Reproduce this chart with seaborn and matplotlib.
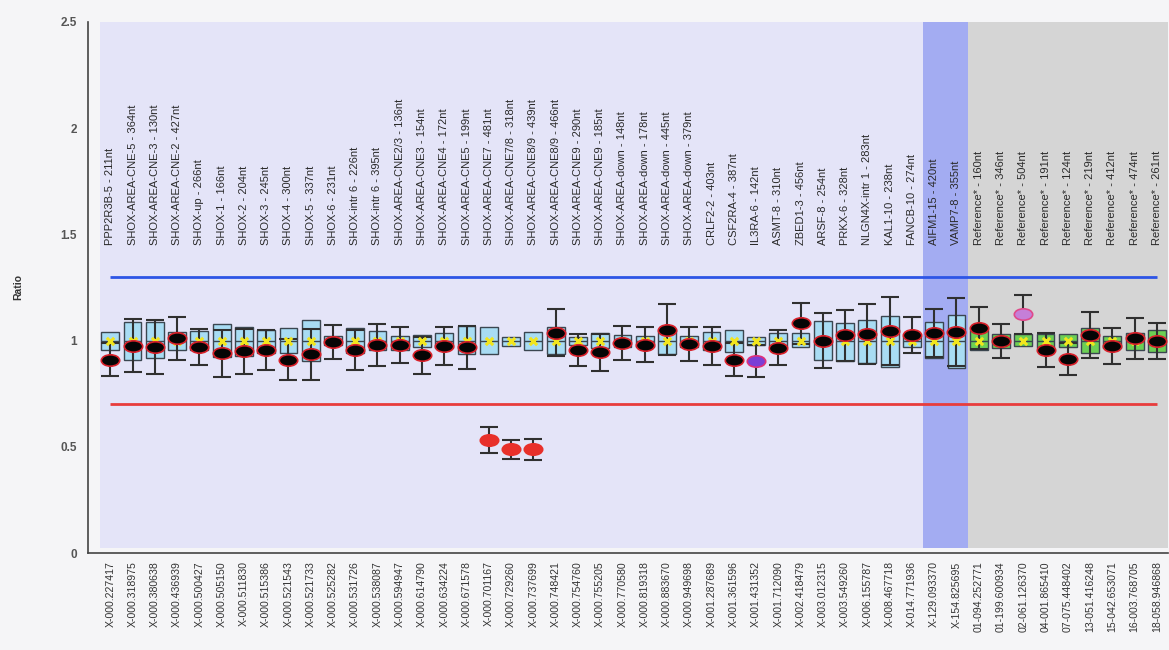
import matplotlib
matplotlib.use("Agg")
import matplotlib.pyplot as plt
from matplotlib.path import Path
import numpy as np
import pandas as pd
import seaborn as sns

# ---------------- data ----------------
probe_names = [
    "PPP2R3B-5 - 211nt", "SHOX-AREA-CNE-5 - 364nt", "SHOX-AREA-CNE-3 - 130nt",
    "SHOX-AREA-CNE-2 - 427nt", "SHOX-up - 266nt", "SHOX-1 - 166nt", "SHOX-2 - 204nt",
    "SHOX-3 - 245nt", "SHOX-4 - 300nt", "SHOX-5 - 337nt", "SHOX-6 - 231nt",
    "SHOX-intr 6 - 226nt", "SHOX-intr 6 - 395nt", "SHOX-AREA-CNE2/3 - 136nt",
    "SHOX-AREA-CNE3 - 154nt", "SHOX-AREA-CNE4 - 172nt", "SHOX-AREA-CNE5 - 199nt",
    "SHOX-AREA-CNE7 - 481nt", "SHOX-AREA-CNE7/8 - 318nt", "SHOX-AREA-CNE8/9 - 439nt",
    "SHOX-AREA-CNE8/9 - 466nt", "SHOX-AREA-CNE9 - 290nt", "SHOX-AREA-CNE9 - 185nt",
    "SHOX-AREA-down - 148nt", "SHOX-AREA-down - 178nt", "SHOX-AREA-down - 445nt",
    "SHOX-AREA-down - 379nt", "CRLF2-2 - 403nt", "CSF2RA-4 - 387nt", "IL3RA-6 - 142nt",
    "ASMT-8 - 310nt", "ZBED1-3 - 456nt", "ARSF-8 - 254nt", "PRKX-6 - 328nt",
    "NLGN4X-intr 1 - 283nt", "KAL1-10 - 238nt", "FANCB-10 - 274nt",
    "AIFM1-15 - 420nt", "VAMP7-8 - 355nt",
    "Reference* - 160nt", "Reference* - 346nt", "Reference* - 504nt",
    "Reference* - 191nt", "Reference* - 124nt", "Reference* - 219nt",
    "Reference* - 412nt", "Reference* - 474nt", "Reference* - 261nt",
]
chrom_pos = [
    "X-000.227417", "X-000.318975", "X-000.380638", "X-000.436939", "X-000.500427",
    "X-000.505150", "X-000.511830", "X-000.515386", "X-000.521543", "X-000.521733",
    "X-000.525282", "X-000.531726", "X-000.538087", "X-000.594947", "X-000.614790",
    "X-000.634224", "X-000.671578", "X-000.701167", "X-000.729260", "X-000.737699",
    "X-000.748421", "X-000.754760", "X-000.755205", "X-000.770580", "X-000.819318",
    "X-000.883670", "X-000.949698", "X-001.287689", "X-001.361596", "X-001.431352",
    "X-001.712090", "X-002.418479", "X-003.012315", "X-003.549260", "X-006.155787",
    "X-008.467718", "X-014.771936", "X-129.093370", "X-154.825695",
    "01-094.252771", "01-199.600934", "02-061.126370", "04-001.865410",
    "07-075.448402", "13-051.416248", "15-042.653071", "16-003.768705",
    "18-058.946868",
]
box_low = [0.955, 0.911, 0.916, 0.955, 0.955, 0.921, 0.927, 0.940, 0.940, 0.905,
           0.980, 0.940, 0.955, 0.955, 0.971, 0.965, 0.935, 0.937, 0.975, 0.955,
           0.935, 0.980, 0.965, 0.971, 0.968, 0.937, 0.971, 0.955, 0.945, 0.980,
           0.968, 0.968, 0.911, 0.905, 0.895, 0.877, 0.971, 0.916, 0.872,
           0.955, 0.965, 0.975, 0.966, 0.968, 0.940, 0.965, 0.958, 0.945]
box_high = [1.042, 1.089, 1.086, 1.042, 1.045, 1.077, 1.065, 1.052, 1.057, 1.096,
            1.020, 1.057, 1.045, 1.021, 1.026, 1.034, 1.069, 1.065, 1.018, 1.039,
            1.065, 1.018, 1.034, 1.026, 1.021, 1.052, 1.021, 1.042, 1.052, 1.018,
            1.036, 1.034, 1.092, 1.081, 1.096, 1.115, 1.021, 1.086, 1.120,
            1.049, 1.031, 1.031, 1.031, 1.029, 1.057, 1.021, 1.036, 1.049]
box_median = [1.00, 1.00, 1.00, 1.00, 1.00, 1.00, 1.00, 1.00, 1.00, 1.00,
              1.00, 1.00, 1.00, 1.00, 1.00, 1.00, 1.00, 1.00, 1.00, 1.00,
              1.00, 1.00, 1.00, 1.00, 1.00, 1.00, 1.00, 1.00, 1.00, 1.00,
              1.00, 1.00, 1.00, 1.00, 1.00, 1.00, 1.00, 1.00, 1.00,
              1.00, 1.00, 1.00, 1.00, 1.00, 1.00, 1.00, 1.00, 1.00]
sample_ratio = [0.911, 0.975, 0.970, 1.010, 0.970, 0.940, 0.950, 0.955, 0.911, 0.935,
                0.995, 0.955, 0.980, 0.980, 0.930, 0.975, 0.968, 0.532, 0.488, 0.488,
                1.037, 0.955, 0.944, 0.987, 0.980, 1.052, 0.983, 0.975, 0.911, 0.905,
                0.966, 1.081, 1.000, 1.025, 1.031, 1.044, 1.026, 1.034, 1.039,
                1.060, 1.000, 1.123, 0.955, 0.913, 1.026, 0.976, 1.010, 1.000]
ratio_err = [0.080, 0.125, 0.125, 0.100, 0.085, 0.110, 0.105, 0.095, 0.095, 0.120,
             0.080, 0.095, 0.100, 0.085, 0.085, 0.090, 0.100, 0.060, 0.045, 0.048,
             0.110, 0.075, 0.085, 0.080, 0.083, 0.120, 0.080, 0.090, 0.080, 0.075,
             0.083, 0.095, 0.130, 0.120, 0.140, 0.160, 0.085, 0.113, 0.160,
             0.100, 0.080, 0.090, 0.080, 0.077, 0.110, 0.085, 0.095, 0.085]
probe_group = ["test"] * 39 + ["reference"] * 9
dot_class = (["normal"] * 17 + ["loss"] * 3 + ["normal"] * 9 + ["flag"] +
             ["normal"] * 11 + ["refflag"] + ["normal"] * 6)
upper_threshold = 1.3
lower_threshold = 0.7

df = pd.DataFrame({
    "probe": probe_names, "pos": chrom_pos, "lo": box_low, "hi": box_high,
    "median": box_median, "ratio": sample_ratio, "err": ratio_err,
    "group": probe_group, "dot": dot_class,
})
df["x"] = np.arange(len(df))

# ---------------- style ----------------
sns.set_theme(style="white")
plt.rcParams["font.family"] = ["Liberation Sans", "DejaVu Sans"]

W, H = 1169, 650
fig = plt.figure(figsize=(W / 100, H / 100), dpi=100, facecolor="#f5f5f7")
ax = fig.add_axes([88 / W, 97 / H, 1080 / W, 531 / H])
ax.set_facecolor("#f5f5f7")
ax.set_xlim(-1.0, 47.5)
ax.set_ylim(0, 2.5)

# background regions
ax.axvspan(-0.45, 36.5, ymin=0.01, ymax=1, color="#e4e4f8", lw=0, zorder=0)
ax.axvspan(36.5, 38.5, ymin=0.01, ymax=1, color="#a3acf2", lw=0, zorder=0)
ax.axvspan(38.5, 47.5, ymin=0.01, ymax=1, color="#d5d5d5", lw=0, zorder=0)

# threshold lines
ax.hlines(upper_threshold, df["x"].iloc[0], df["x"].iloc[-1], color="#2d55e6", lw=2, zorder=1)
ax.hlines(lower_threshold, df["x"].iloc[0], df["x"].iloc[-1], color="#e83c3c", lw=2, zorder=1)

# boxes (reference range)
box_colors = df["group"].map({"test": "#a8dcf3", "reference": "#6ccf55"})
ax.bar(df["x"], df["hi"] - df["lo"], bottom=df["lo"], width=0.8,
       color=box_colors, edgecolor="#3b4650", linewidth=1.0, zorder=2)
ax.hlines(df["median"], df["x"] - 0.4, df["x"] + 0.4, color="#3b4650", lw=1.0, zorder=2)

# error bars on the sample ratio
ax.errorbar(df["x"], df["ratio"], yerr=df["err"], fmt="none", ecolor="#303030",
            elinewidth=1.5, capsize=6.5, capthick=1.5, zorder=3)

# yellow mean markers
sns.scatterplot(data=df, x="x", y="median", marker="x", color="#f2e51c",
                s=28, linewidth=2.2, zorder=4, ax=ax, legend=False)

# elliptical sample dots
circ = Path.unit_circle()
ellipse = Path(circ.vertices * np.array([1.0, 0.62]), circ.codes)
dot_style = {
    "normal": ("#050505", "#d8202a"),
    "loss": ("#e8302a", "#e8302a"),
    "flag": ("#7a3fd6", "#e0307a"),
    "refflag": ("#c57fd8", "#e04a8a"),
}
for cls, (fc, ec) in dot_style.items():
    sub = df[df["dot"] == cls]
    sns.scatterplot(data=sub, x="x", y="ratio", marker=ellipse, color=fc,
                    edgecolor=ec, linewidth=1.2, s=175, zorder=5, ax=ax, legend=False)

# probe name labels at top
for xi, name in zip(df["x"], df["probe"]):
    ax.text(xi, 1.45, name, rotation=90, ha="center", va="bottom",
            fontsize=8, color="#2a2a2a", zorder=6)

# axes
ax.set_xticks(df["x"])
ax.set_xticklabels(df["pos"], rotation=90, fontsize=7.6, color="#333333")
ax.set_yticks([0, 0.5, 1, 1.5, 2, 2.5])
ax.set_yticklabels(["0", "0.5", "1", "1.5", "2", "2.5"], fontsize=8.5,
                   fontweight="bold", color="#555555")
ax.tick_params(axis="both", direction="out", length=6, width=1.0, color="#444444", pad=2)
ax.tick_params(axis="x", length=5, pad=1)
ax.set_xlabel("")
ax.set_ylabel("")
for s in ["top", "right"]:
    ax.spines[s].set_visible(False)
for s in ["left", "bottom"]:
    ax.spines[s].set_color("#444444")
    ax.spines[s].set_linewidth(1.2)

fig.text(18 / W, 1 - 287 / H, "Ratio", rotation=90, fontsize=7.5,
         fontweight="bold", color="#333333", ha="center", va="center")

fig.savefig("out.png", dpi=100, facecolor=fig.get_facecolor())
